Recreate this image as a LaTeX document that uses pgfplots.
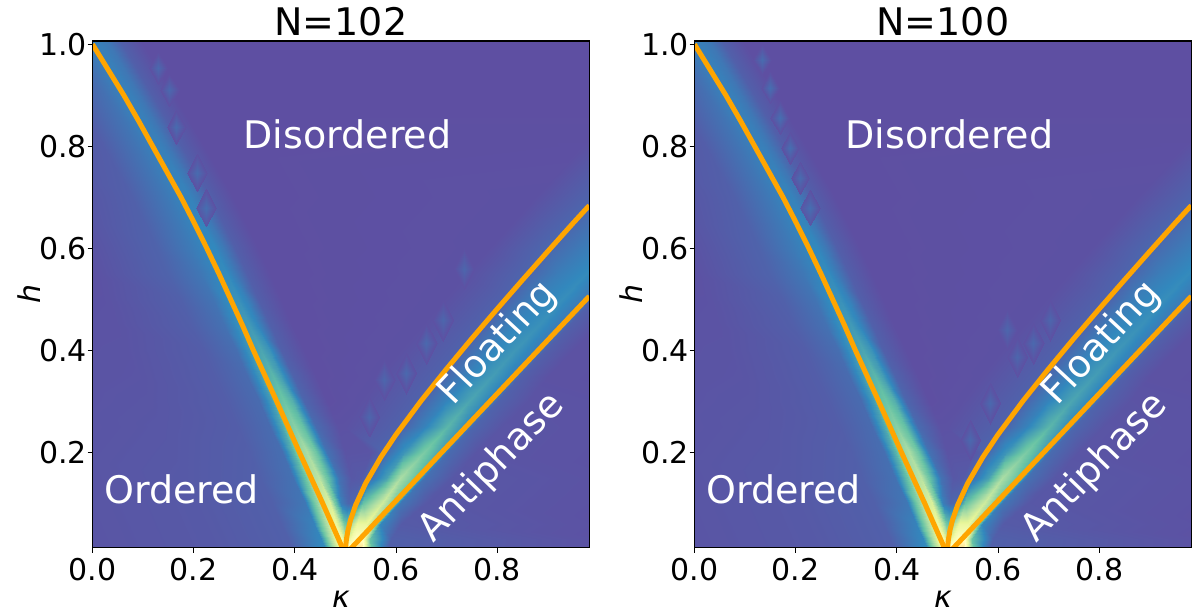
\documentclass[border=0pt]{standalone}
\usepackage{fontspec}
\setmainfont{DejaVu Sans}
\usepackage{pgfplots}
\usepackage{pgfplotstable}
\pgfplotsset{compat=1.18}
\pgfplotstableread{
x y c
-0.006 0.0125 0.01
0.244 0.0125 0.018
0.394 0.0125 0.03
0.459 0.0125 0.11
0.482 0.0125 0.35
0.494 0.0125 0.48
0.497 0.0125 0.5
0.499 0.0125 0.5
0.5 0.0125 0.5
0.5005 0.0125 0.5
0.501 0.0125 0.5
0.502 0.0125 0.5
0.505 0.0125 0.52
0.515 0.0125 0.55
0.53 0.0125 0.6
0.551 0.0125 0.2
0.585 0.0125 0.03
1.1 0.0125 0
-0.014 0.03 0.01
0.236 0.03 0.018
0.386 0.03 0.03
0.451 0.03 0.1
0.474 0.03 0.33
0.486 0.03 0.45
0.491 0.03 0.46
0.495 0.03 0.42
0.498 0.03 0.38
0.5 0.03 0.35
0.501 0.03 0.36
0.502 0.03 0.38
0.51 0.03 0.46
0.52 0.03 0.5
0.535 0.03 0.48
0.548 0.03 0.2
0.59 0.03 0.03
1.1 0.03 0
-0.027 0.06 0.01
0.223 0.06 0.018
0.373 0.06 0.03
0.438 0.06 0.09
0.461 0.06 0.3
0.473 0.06 0.4
0.482 0.06 0.42
0.49 0.06 0.33
0.497 0.06 0.22
0.502 0.06 0.2
0.505 0.06 0.22
0.508 0.06 0.28
0.522 0.06 0.42
0.54 0.06 0.42
0.557 0.06 0.3
0.568 0.06 0.1
0.61 0.06 0.02
1.15 0.06 0
-0.045 0.1 0.01
0.205 0.1 0.018
0.355 0.1 0.03
0.42 0.1 0.07
0.443 0.1 0.26
0.455 0.1 0.36
0.47 0.1 0.38
0.48 0.1 0.22
0.492 0.1 0.08
0.505 0.1 0.04
0.515 0.1 0.045
0.5215 0.1 0.07
0.535 0.1 0.2
0.573 0.1 0.36
0.595 0.1 0.22
0.607 0.1 0.07
0.66 0.1 0.015
1.2 0.1 0
-0.068 0.15 0.008
0.182 0.15 0.018
0.332 0.15 0.03
0.397 0.15 0.06
0.42 0.15 0.2
0.432 0.15 0.3
0.447 0.15 0.33
0.462 0.15 0.22
0.487 0.15 0.06
0.51 0.15 0.015
0.53 0.15 0.02
0.5458 0.15 0.05
0.58 0.15 0.14
0.607 0.15 0.3
0.643 0.15 0.18
0.656 0.15 0.06
0.71 0.15 0.015
1.25 0.15 0
-0.091 0.2 0.008
0.159 0.2 0.016
0.309 0.2 0.028
0.374 0.2 0.055
0.397 0.2 0.17
0.409 0.2 0.26
0.424 0.2 0.3
0.439 0.2 0.22
0.464 0.2 0.06
0.5 0.2 0.008
0.55 0.2 0.01
0.5762 0.2 0.04
0.615 0.2 0.12
0.656 0.2 0.23
0.69 0.2 0.13
0.703 0.2 0.05
0.76 0.2 0.01
1.3 0.2 0
-0.114 0.25 0.006
0.136 0.25 0.014
0.286 0.25 0.025
0.351 0.25 0.05
0.374 0.25 0.15
0.386 0.25 0.22
0.401 0.25 0.25
0.416 0.25 0.2
0.441 0.25 0.05
0.486 0.25 0.005
0.5 0.25 0.005
0.611 0.25 0.035
0.655 0.25 0.09
0.7 0.25 0.18
0.738 0.25 0.1
0.751 0.25 0.04
0.81 0.25 0.01
1.35 0.25 0
-0.136 0.3 0.006
0.114 0.3 0.012
0.264 0.3 0.025
0.329 0.3 0.05
0.352 0.3 0.13
0.364 0.3 0.19
0.379 0.3 0.21
0.394 0.3 0.17
0.419 0.3 0.04
0.464 0.3 0
0.53 0.3 0.004
0.6488 0.3 0.035
0.697 0.3 0.09
0.745 0.3 0.15
0.786 0.3 0.09
0.799 0.3 0.035
0.86 0.3 0.008
1.4 0.3 0
-0.159 0.35 0.005
0.091 0.35 0.01
0.241 0.35 0.025
0.306 0.35 0.05
0.329 0.35 0.12
0.341 0.35 0.16
0.356 0.35 0.18
0.371 0.35 0.14
0.396 0.35 0.035
0.441 0.35 0
0.569 0.35 0.004
0.6887 0.35 0.035
0.74 0.35 0.09
0.79 0.35 0.135
0.833 0.35 0.08
0.846 0.35 0.03
0.9 0.35 0.005
1.45 0.35 0
-0.182 0.4 0.004
0.068 0.4 0.009
0.218 0.4 0.025
0.283 0.4 0.055
0.306 0.4 0.11
0.318 0.4 0.135
0.333 0.4 0.15
0.348 0.4 0.12
0.373 0.4 0.03
0.418 0.4 0
0.61 0.4 0.004
0.7303 0.4 0.035
0.783 0.4 0.09
0.836 0.4 0.125
0.881 0.4 0.075
0.894 0.4 0.03
0.95 0.4 0.005
1.5 0.4 0
-0.205 0.45 0.003
0.045 0.45 0.007
0.195 0.45 0.028
0.26 0.45 0.06
0.283 0.45 0.105
0.295 0.45 0.12
0.31 0.45 0.13
0.325 0.45 0.1
0.35 0.45 0.03
0.395 0.45 0
0.653 0.45 0.004
0.773 0.45 0.035
0.827 0.45 0.09
0.882 0.45 0.115
0.929 0.45 0.07
0.942 0.45 0.03
1.0 0.45 0.005
1.55 0.45 0
-0.227 0.5 0.002
0.023 0.5 0.006
0.173 0.5 0.03
0.238 0.5 0.065
0.261 0.5 0.1
0.273 0.5 0.115
0.288 0.5 0.115
0.303 0.5 0.09
0.328 0.5 0.028
0.373 0.5 0
0.697 0.5 0.004
0.8165 0.5 0.035
0.872 0.5 0.085
0.928 0.5 0.11
0.976 0.5 0.07
0.989 0.5 0.03
1.05 0.5 0.005
1.6 0.5 0
-0.25 0.55 0
0 0.55 0.004
0.15 0.55 0.035
0.215 0.55 0.07
0.238 0.55 0.09
0.25 0.55 0.105
0.265 0.55 0.105
0.28 0.55 0.08
0.305 0.55 0.028
0.35 0.55 0
0.741 0.55 0.004
0.8607 0.55 0.04
0.918 0.55 0.08
0.975 0.55 0.105
1.024 0.55 0.07
1.04 0.55 0.03
1.1 0.55 0.005
1.65 0.55 0
-0.273 0.6 0
-0.023 0.6 0.003
0.127 0.6 0.035
0.192 0.6 0.075
0.215 0.6 0.09
0.227 0.6 0.1
0.242 0.6 0.1
0.257 0.6 0.075
0.282 0.6 0.028
0.327 0.6 0
0.786 0.6 0.004
0.9056 0.6 0.045
0.963 0.6 0.075
1.02 0.6 0.1
1.071 0.6 0.07
1.09 0.6 0.03
1.15 0.6 0.005
1.7 0.6 0
-0.322 0.7 0
-0.072 0.7 0.002
0.078 0.7 0.03
0.143 0.7 0.07
0.166 0.7 0.085
0.178 0.7 0.09
0.193 0.7 0.09
0.208 0.7 0.07
0.233 0.7 0.028
0.278 0.7 0
0.876 0.7 0.004
0.9959 0.7 0.04
1.05 0.7 0.06
1.116 0.7 0.09
1.167 0.7 0.06
1.19 0.7 0.03
1.25 0.7 0.005
1.8 0.7 0
-0.38 0.8 0
-0.13 0.8 0.002
0.02 0.8 0.025
0.085 0.8 0.065
0.108 0.8 0.08
0.12 0.8 0.085
0.135 0.8 0.085
0.15 0.8 0.07
0.175 0.8 0.028
0.22 0.8 0
0.968 0.8 0.002
1.088 0.8 0.03
1.15 0.8 0.05
1.2 0.8 0.08
1.262 0.8 0.05
1.28 0.8 0.02
1.35 0.8 0
1.9 0.8 0
-0.44 0.9 0
-0.19 0.9 0
-0.04 0.9 0.02
0.027 0.9 0.06
0.05 0.9 0.08
0.062 0.9 0.085
0.077 0.9 0.085
0.092 0.9 0.07
0.117 0.9 0.028
0.162 0.9 0
1.1 0.9 0
1.18 0.9 0
1.25 0.9 0
1.3 0.9 0
1.357 0.9 0
1.37 0.9 0
1.4 0.9 0
2.0 0.9 0
-0.5 1.0065 0
-0.25 1.0065 0
-0.1 1.0065 0.01
-0.039 1.0065 0.055
-0.016 1.0065 0.075
-0.004 1.0065 0.085
0.011 1.0065 0.085
0.03 1.0065 0.07
0.055 1.0065 0.03
0.096 1.0065 0
1.2 1.0065 0
1.279 1.0065 0
1.33 1.0065 0
1.4 1.0065 0
1.459 1.0065 0
1.47 1.0065 0
1.5 1.0065 0
2.1 1.0065 0
}\meshtable
\pgfplotstableread{
x y c
0.111 0.953 0.003
0.129 0.983 0.003
0.147 0.953 0.003
0.129 0.923 0.003
0.129 0.953 0.045
0.134 0.91 0.003
0.152 0.94 0.003
0.17 0.91 0.003
0.152 0.88 0.003
0.152 0.91 0.045
0.148 0.838 0.003
0.166 0.872 0.003
0.184 0.838 0.003
0.166 0.804 0.003
0.166 0.838 0.05
0.186 0.748 0.004
0.206 0.784 0.004
0.226 0.748 0.004
0.206 0.712 0.004
0.206 0.748 0.05
0.205 0.68 0.012
0.225 0.716 0.004
0.245 0.68 0.004
0.225 0.644 0.012
0.225 0.68 0.055
0.715 0.56 0.003
0.735 0.6 0.003
0.755 0.56 0.003
0.735 0.52 0.003
0.735 0.56 0.04
0.672 0.459 0.003
0.692 0.499 0.003
0.712 0.459 0.003
0.692 0.419 0.003
0.692 0.459 0.04
0.64 0.414 0.003
0.66 0.454 0.003
0.68 0.414 0.003
0.66 0.374 0.003
0.66 0.414 0.045
0.6 0.355 0.003
0.62 0.395 0.003
0.64 0.355 0.003
0.62 0.315 0.003
0.62 0.355 0.045
0.557 0.342 0.003
0.577 0.382 0.003
0.597 0.342 0.003
0.577 0.302 0.003
0.577 0.342 0.04
0.527 0.27 0.003
0.547 0.31 0.003
0.567 0.27 0.003
0.547 0.23 0.003
0.547 0.27 0.04
}\blobsA
\pgfplotstableread{
x y c
0.115 0.97 0.003
0.133 0.998 0.003
0.151 0.97 0.003
0.133 0.942 0.003
0.133 0.97 0.05
0.131 0.915 0.003
0.149 0.945 0.003
0.167 0.915 0.003
0.149 0.885 0.003
0.149 0.915 0.055
0.15 0.856 0.003
0.168 0.888 0.003
0.186 0.856 0.003
0.168 0.824 0.003
0.168 0.856 0.055
0.17 0.797 0.003
0.188 0.829 0.003
0.206 0.797 0.003
0.188 0.765 0.003
0.188 0.797 0.055
0.19 0.738 0.004
0.208 0.77 0.004
0.226 0.738 0.004
0.208 0.706 0.004
0.208 0.738 0.05
0.208 0.68 0.012
0.228 0.714 0.004
0.248 0.68 0.004
0.228 0.646 0.012
0.228 0.68 0.055
0.683 0.459 0.003
0.703 0.499 0.003
0.723 0.459 0.003
0.703 0.419 0.003
0.703 0.459 0.04
0.65 0.414 0.003
0.67 0.454 0.003
0.69 0.414 0.003
0.67 0.374 0.003
0.67 0.414 0.045
0.617 0.387 0.003
0.637 0.427 0.003
0.657 0.387 0.003
0.637 0.347 0.003
0.637 0.387 0.04
0.597 0.44 0.003
0.617 0.48 0.003
0.637 0.44 0.003
0.617 0.4 0.003
0.617 0.44 0.04
0.564 0.296 0.003
0.584 0.336 0.003
0.604 0.296 0.003
0.584 0.256 0.003
0.584 0.296 0.045
0.524 0.224 0.003
0.544 0.264 0.003
0.564 0.224 0.003
0.544 0.184 0.003
0.544 0.224 0.045
}\blobsB
\pgfplotsset{
  panel/.style={
    scale only axis, width=496.8pt, height=506.7pt,
    xmin=0, xmax=0.982, ymin=0.0129, ymax=1.0065,
    point meta min=0, point meta max=1,
    colormap={spectral}{rgb255=(94,79,162) rgb255=(50,136,189) rgb255=(102,194,165) rgb255=(171,221,164) rgb255=(230,245,152) rgb255=(255,255,191) rgb255=(254,224,139) rgb255=(253,174,97) rgb255=(244,109,67) rgb255=(213,62,79) rgb255=(158,1,66)},
    axis on top,
    xtick={0,0.2,0.4,0.6,0.8}, ytick={0.2,0.4,0.6,0.8,1.0},
    tick align=outside, xtick pos=bottom, ytick pos=left,
    major tick length=5pt, tick style={black, line width=1pt},
    axis line style={black, line width=1.1pt},
    /pgf/number format/assume math mode=true,
    /pgf/number format/fixed, /pgf/number format/fixed zerofill, /pgf/number format/precision=1,
    tick label style={font=\fontsize{30pt}{32pt}\selectfont},
    xticklabel style={yshift=-2pt}, yticklabel style={xshift=3pt},
    title style={font=\fontsize{38pt}{40pt}\selectfont, at={(0.5,1)}, anchor=south, yshift=-5pt},
    xlabel={\textit{κ}}, ylabel={\textit{h}},
    label style={font=\fontsize{30pt}{32pt}\selectfont},
    xlabel style={yshift=-3pt}, ylabel style={yshift=-8pt},
  },
  ising/.style={orange, line width=5pt, line join=round},
}
\tikzset{region/.style={text=white, font=\fontsize{38pt}{40pt}\selectfont}}
\definecolor{orange}{RGB}{255,165,0}
\newcommand{\lines}{%
  \addplot[ising] coordinates {(0,1.0) (0.031,0.95) (0.062,0.9) (0.091,0.85) (0.119,0.8) (0.147,0.75) (0.175,0.7) (0.201,0.65) (0.226,0.6) (0.25,0.55) (0.273,0.5) (0.296,0.45) (0.318,0.4) (0.364,0.3) (0.409,0.2) (0.455,0.1) (0.494,0.0125)};
  \addplot[ising] coordinates {(0.5,0.0) (0.501,0.021) (0.502,0.0298) (0.505,0.0473) (0.51,0.0672) (0.52,0.0962) (0.54,0.1393) (0.57,0.1905) (0.6,0.2348) (0.65,0.3016) (0.7,0.3637) (0.75,0.4233) (0.8,0.4812) (0.85,0.538) (0.9,0.594) (0.95,0.6494) (0.982,0.684)};
  \addplot[ising] coordinates {(0.5,0.0) (0.55,0.0525) (0.6,0.105) (0.7,0.21) (0.8,0.315) (0.9,0.42) (0.982,0.506)};
}
\begin{document}
\begin{tikzpicture}
\path[use as bounding box] (0,0) rectangle (1196pt,615pt);
\begin{axis}[panel, at={(92.5pt,67.3pt)}, anchor=south west, title={N=102}]
\addplot[surf, shader=interp, mesh/rows=18, mesh/cols=18, point meta=explicit] table[x=x,y=y,meta=c] {\meshtable};
\addplot[patch, shader=interp, point meta=explicit, table/row sep=\\, patch table={0 1 4\\1 2 4\\2 3 4\\3 0 4\\5 6 9\\6 7 9\\7 8 9\\8 5 9\\10 11 14\\11 12 14\\12 13 14\\13 10 14\\15 16 19\\16 17 19\\17 18 19\\18 15 19\\20 21 24\\21 22 24\\22 23 24\\23 20 24\\25 26 29\\26 27 29\\27 28 29\\28 25 29\\30 31 34\\31 32 34\\32 33 34\\33 30 34\\35 36 39\\36 37 39\\37 38 39\\38 35 39\\40 41 44\\41 42 44\\42 43 44\\43 40 44\\45 46 49\\46 47 49\\47 48 49\\48 45 49\\50 51 54\\51 52 54\\52 53 54\\53 50 54\\}] table[x=x,y=y,meta=c] {\blobsA};
\lines
\node[region] at (axis cs:0.504,0.824) {Disordered};
\node[region] at (axis cs:0.176,0.128) {Ordered};
\node[region, rotate=47] at (axis cs:0.802,0.414) {Floating};
\node[region, rotate=46] at (axis cs:0.79,0.169) {Antiphase};
\end{axis}
\begin{axis}[panel, at={(694.5pt,67.3pt)}, anchor=south west, title={N=100}]
\addplot[surf, shader=interp, mesh/rows=18, mesh/cols=18, point meta=explicit] table[x=x,y=y,meta=c] {\meshtable};
\addplot[patch, shader=interp, point meta=explicit, table/row sep=\\, patch table={0 1 4\\1 2 4\\2 3 4\\3 0 4\\5 6 9\\6 7 9\\7 8 9\\8 5 9\\10 11 14\\11 12 14\\12 13 14\\13 10 14\\15 16 19\\16 17 19\\17 18 19\\18 15 19\\20 21 24\\21 22 24\\22 23 24\\23 20 24\\25 26 29\\26 27 29\\27 28 29\\28 25 29\\30 31 34\\31 32 34\\32 33 34\\33 30 34\\35 36 39\\36 37 39\\37 38 39\\38 35 39\\40 41 44\\41 42 44\\42 43 44\\43 40 44\\45 46 49\\46 47 49\\47 48 49\\48 45 49\\50 51 54\\51 52 54\\52 53 54\\53 50 54\\55 56 59\\56 57 59\\57 58 59\\58 55 59\\}] table[x=x,y=y,meta=c] {\blobsB};
\lines
\node[region] at (axis cs:0.504,0.824) {Disordered};
\node[region] at (axis cs:0.176,0.128) {Ordered};
\node[region, rotate=47] at (axis cs:0.805,0.414) {Floating};
\node[region, rotate=46] at (axis cs:0.791,0.169) {Antiphase};
\end{axis}
\end{tikzpicture}
\end{document}
